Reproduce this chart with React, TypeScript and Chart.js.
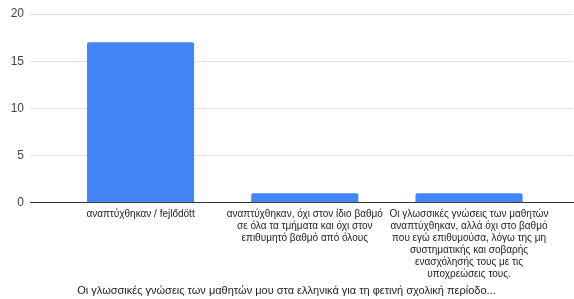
import React, { useEffect, useRef } from "react";
import { Chart, registerables } from "chart.js";

Chart.register(...registerables);

const categoryLabels: string[][] = [
  ["αναπτύχθηκαν / fejlődött"],
  ["αναπτύχθηκαν, όχι στον ίδιο βαθμό", "σε όλα τα τμήματα και όχι στον", "επιθυμητό βαθμό από όλους"],
  [
    "Οι γλωσσικές γνώσεις των μαθητών",
    "αναπτύχθηκαν, αλλά όχι στο βαθμό",
    "που εγώ επιθυμούσα, λόγω της μη",
    "συστηματικής και σοβαρής",
    "ενασχόλησής τους με τις",
    "υποχρεώσεις τους.",
  ],
];
const counts: number[] = [17, 1, 1];
const yTicks: number[] = [0, 5, 10, 15, 20];
const chartTitle = "Οι γλωσσικές γνώσεις των μαθητών μου στα ελληνικά για τη φετινή σχολική περίοδο...";

const FONT = "'Liberation Sans', Arial, sans-serif";

export default function App() {
  const ref = useRef<HTMLCanvasElement>(null);
  useEffect(() => {
    document.body.style.margin = "0";
    const canvas = ref.current!;
    const chart = new Chart(canvas, {
      type: "bar",
      data: {
        datasets: [
          {
            data: counts.map((v, i) => ({ x: i, y: v })),
            backgroundColor: "#4285F4",
            borderRadius: { topLeft: 2, topRight: 2, bottomLeft: 0, bottomRight: 0 },
            borderSkipped: "bottom",
            barPercentage: 0.652,
            categoryPercentage: 1,
          },
        ],
      },
      options: {
        animation: false,
        responsive: false,
        layout: { padding: { left: 0, right: 1, top: 14, bottom: 0 } },
        plugins: {
          legend: { display: false },
          tooltip: { enabled: false },
          title: {
            display: true,
            text: chartTitle,
            position: "bottom",
            color: "#222",
            font: { family: FONT, size: 11, weight: "normal", lineHeight: 1.2 },
            padding: { top: 0, bottom: 1 },
          },
        },
        scales: {
          x: {
            type: "linear",
            offset: false,
            bounds: "data",
            min: -0.673,
            max: 2.633,
            afterBuildTicks: (scale: any) => {
              scale.ticks = categoryLabels.map((_, i) => ({ value: i }));
            },
            afterFit: (scale: any) => {
              scale.height = 82;
            },
            grid: { display: false, drawTicks: false, offset: false },
            border: { display: true, color: "#333", width: 1 },
            ticks: {
              autoSkip: false,
              maxRotation: 0,
              minRotation: 0,
              padding: 5,
              color: "#222",
              font: { family: FONT, size: 10, lineHeight: 1.2 },
              callback: (v: any) => categoryLabels[v] ?? "",
            },
          },
          y: {
            min: 0,
            max: 20,
            afterBuildTicks: (scale: any) => {
              scale.ticks = yTicks.map((v) => ({ value: v }));
            },
            afterFit: (scale: any) => {
              scale.width = 30;
            },
            grid: {
              color: (ctx: any) => (ctx.tick && ctx.tick.value === 0 ? "rgba(0,0,0,0)" : "#e0e0e0"),
              drawTicks: false,
            },
            border: { display: false },
            ticks: {
              padding: 6,
              color: "#444",
              font: { family: FONT, size: 12 },
            },
          },
        },
      },
    });
    return () => chart.destroy();
  }, []);
  return <canvas ref={ref} width={574} height={299} style={{ display: "block" }} />;
}
